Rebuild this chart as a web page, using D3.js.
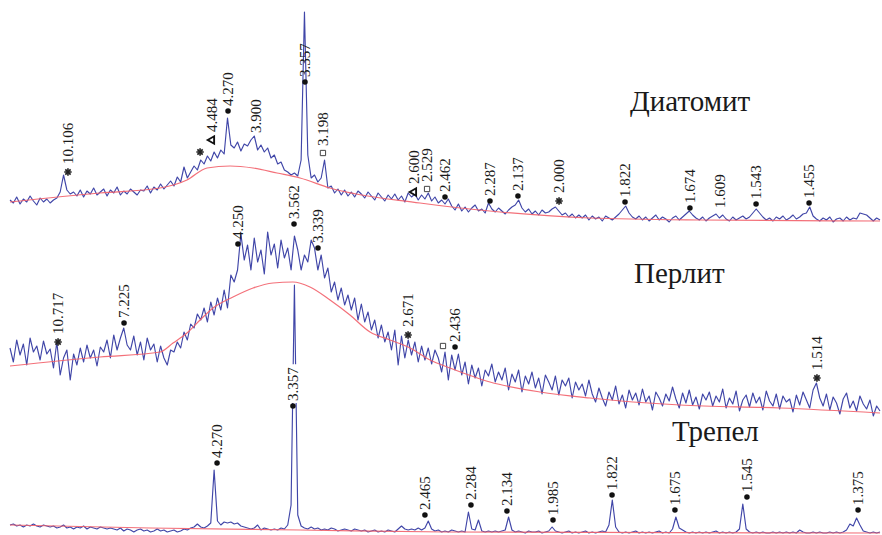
<!DOCTYPE html>
<html>
<head>
<meta charset="utf-8">
<script src="https://cdn.jsdelivr.net/npm/d3@7"></script>
<style>
  body { margin: 0; background: #fff; }
  svg { display: block; }
  text { font-family: "Liberation Serif", "Times New Roman", serif; fill: #1a1a1a; }
</style>
</head>
<body>
<svg id="chart"></svg>
<script>
// 2-theta grid of the scans (degrees)
var twoThetaStart = 5, twoThetaStep = 0.25;

// intensities, arbitrary units, one value per step
var diatomiteCounts = [30,27,33,26,31,28,34,29,25,32,28,31,27,30,
  32,38,55,40,36,
  38,34,40,33,39,36,42,35,38,41,34,40,37,43,35,39,36,41,38,35,40,
  39,44,37,43,40,46,41,
  45,49,44,53,48,63,
  52,58,64,60,70,
  66,74,69,78,72,80,76,
  112,85,
  82,88,79,86,84,90,94,80,85,
  78,82,72,75,66,68,60,
  58,55,57,54,
  70,218,75,52,55,48,52,70,42,
  44,37,41,35,40,34,38,33,39,36,
  32,38,34,30,37,33,29,35,31,36,
  30,34,28,37,33,36,30,
  35,31,37,29,33,27,30,26,31,
  24,20,26,19,23,18,22,25,19,21,17,
  27,21,18,22,19,16,20,23,
  25,30,22,18,21,16,19,15,20,17,
  18,21,23,19,15,17,13,16,12,15,
  12,15,10,14,11,13,9,14,12,10,13,16,
  20,24,17,13,
  11,14,10,13,9,12,15,10,13,11,8,12,14,10,13,16,
  19,15,12,10,
  13,9,12,14,16,12,15,11,9,13,10,12,14,11,13,17,
  21,17,13,10,
  12,9,13,11,14,10,12,15,11,13,16,
  17,23,14,11,
  9,12,10,13,8,11,12,9,13,10,12,11,
  17,16,15,12,9,12,10];

var perliteCounts = [72,58,80,65,76,55,82,68,74,60,79,66,71,
  52,78,45,62,70,40,
  66,55,72,58,75,62,70,54,73,
  68,80,62,85,70,82,92,75,70,
  84,65,78,60,82,70,76,58,74,
  62,55,70,68,
  78,72,88,80,96,92,106,100,
  112,98,118,105,122,110,
  130,112,145,138,150,
  186,160,175,150,182,158,170,146,188,165,176,152,180,162,172,150,184,
  170,150,165,
  158,180,172,
  150,165,142,152,
  128,138,120,132,115,125,
  110,122,100,116,98,108,
  90,100,82,95,78,88,
  70,90,55,84,62,80,
  65,78,58,74,60,72,56,70,62,
  48,68,40,65,50,66,
  45,58,36,55,42,52,34,50,44,56,38,48,
  40,52,30,46,38,50,28,44,36,48,32,42,26,45,38,
  30,44,25,40,34,42,22,38,30,36,24,40,
  26,18,32,22,14,28,20,34,16,25,12,30,
  20,27,15,31,18,24,10,28,22,14,26,19,
  33,21,12,27,17,30,15,23,11,26,20,28,
  14,24,18,31,12,22,16,29,9,20,25,13,
  27,17,23,10,29,19,14,26,11,24,18,21,
  8,25,15,28,20,12,30,37,22,14,26,10,
  23,17,6,21,27,12,19,9,24,16,11,20,
  4,14,9];

var trepelCounts = [10,11,9,10,8,10,9,11,9,8,10,9,8,
  9,7,8,10,7,8,6,8,7,9,6,8,7,6,8,7,6,7,
  6,5,7,4,6,5,3,5,6,4,5,3,4,6,4,5,3,4,5,3,4,6,5,7,8,
  11,8,7,9,12,
  65,14,
  10,13,12,13,11,12,9,8,
  7,6,7,10,5,7,
  6,5,6,5,7,6,10,
  30,250,20,
  9,7,6,8,6,7,5,6,5,7,6,4,5,6,5,4,6,5,4,
  5,3,4,5,3,4,3,5,4,3,
  6,9,6,5,6,5,7,5,
  7,14,6,
  4,5,3,4,3,5,4,3,4,3,
  23,6,5,15,4,3,
  4,3,4,3,4,5,
  18,5,
  3,4,3,2,4,3,3,4,2,3,4,8,4,
  3,2,3,4,2,3,2,3,4,2,3,2,3,4,3,
  10,35,8,
  3,2,3,2,3,4,2,3,2,3,2,3,4,2,3,2,
  6,18,7,5,3,
  2,3,2,3,2,3,2,3,4,2,3,2,3,2,3,6,
  31,6,
  3,2,3,2,3,2,2,3,2,3,2,3,2,3,2,5,3,2,2,3,2,3,2,2,3,2,3,2,3,5,
  11,9,17,10,4,
  3,2,3,2,3];

// amorphous background, [2theta, intensity]
var diatomiteBackground = [[5,28],[11.72,37],[16.21,42],[18.22,50],[19.72,62],[21.44,64],[23.16,62],
  [24.95,57],[26.67,52],[28.91,42],[35.63,27],[41.61,18],[48.33,12],[56.55,10],[70,9]];
var perliteBackground = [[5,54],[11.72,63],[16.21,68],[17.18,77],[18.22,87],[19.2,100],[20.17,112],
  [21.66,123],[23.16,132],[24.65,137],[26.14,138],[27.41,133],[28.91,120],[30.4,105],[31.9,88],
  [33.39,80],[34.89,72],[36.38,60],[37.87,52],[40.86,38],[44.6,28],[48.33,22],[55.06,15],[62.53,12],[70,7]];
var trepelBackground = [[5,10],[15.46,7],[26.67,5],[37.65,3],[70,2]];

// peak labels: [d, 2theta, intensity at marker, marker]
var diatomitePeaks = [
  ['10.106', 9.33, 58, 'star'],
  ['', 19.2, 78, 'star'],
  ['4.484', 20.09, 90, 'tri'],
  ['4.270', 21.29, 119, 'dot'],
  ['3.900', 23.34, 97, ''],
  ['3.357', 27.04, 148, 'dot'],
  ['3.198', 28.38, 77, 'sq'],
  ['2.600', 35.18, 38, 'tri'],
  ['2.529', 36.16, 41, 'sq'],
  ['2.462', 37.5, 33, 'dot'],
  ['2.287', 40.86, 29, 'dot'],
  ['2.137', 42.95, 34, 'dot'],
  ['2.000', 46.02, 29, 'star'],
  ['1.822', 50.95, 28, 'dot'],
  ['1.674', 55.8, 22, 'dot'],
  ['1.609', 58.05, 22, ''],
  ['1.543', 60.74, 26, 'dot'],
  ['1.455', 64.7, 27, 'dot']
];
var perlitePeaks = [
  ['10.717', 8.59, 78, 'star'],
  ['7.225', 13.52, 97, 'dot'],
  ['4.250', 22.03, 176, 'dot'],
  ['3.562', 26.22, 196, 'dot'],
  ['3.339', 28.01, 172, 'dot'],
  ['2.671', 34.74, 85, 'star'],
  ['', 37.35, 74, 'sq'],
  ['2.436', 38.25, 73, 'dot'],
  ['1.514', 65.29, 42, 'star']
];
var trepelPeaks = [
  ['4.270', 20.47, 72, 'dot'],
  ['3.357', 26.14, 129, 'dot'],
  ['2.465', 36.0, 20, 'dot'],
  ['2.284', 39.44, 30, 'dot'],
  ['2.134', 42.13, 24, 'dot'],
  ['1.985', 45.57, 15, 'dot'],
  ['1.822', 49.98, 40, 'dot'],
  ['1.675', 54.68, 25, 'dot'],
  ['1.545', 60.06, 38, 'dot'],
  ['1.375', 68.36, 25, 'dot']
];

var sampleNames = ['Диатомит', 'Перлит', 'Трепел'];

var width = 882, height = 535;
var svg = d3.select('#chart').attr('width', width).attr('height', height);

var x = d3.scaleLinear().domain([5, 70]).range([10, 880]);

var panels = [
  { name: sampleNames[0], counts: diatomiteCounts, bg: diatomiteBackground, peaks: diatomitePeaks,
    y: d3.scaleLinear().domain([0, 220]).range([230, 10]), titleX: 630, titleY: 111, masked: [] },
  { name: sampleNames[1], counts: perliteCounts, bg: perliteBackground, peaks: perlitePeaks,
    y: d3.scaleLinear().domain([0, 200]).range([420, 220]), titleX: 634, titleY: 283, masked: [] },
  { name: sampleNames[2], counts: trepelCounts, bg: trepelBackground, peaks: trepelPeaks,
    y: d3.scaleLinear().domain([0, 260]).range([535, 275]), titleX: 672, titleY: 441, masked: ['3.357'] }
];

// gap between marker and the value text
var gaps = { dot: 5, star: 8, tri: 8, sq: 7, '': 0 };

function drawMarker(g, type) {
  if (type === 'dot') {
    g.append('path').attr('d', d3.symbol().type(d3.symbolCircle).size(24)).attr('fill', '#111');
  } else if (type === 'star') {
    g.append('path').attr('d', d3.symbol().type(d3.symbolPlus).size(20))
      .attr('stroke', '#222').attr('stroke-width', 1.6).attr('fill', 'none');
    g.append('path').attr('d', d3.symbol().type(d3.symbolTimes).size(20))
      .attr('stroke', '#222').attr('stroke-width', 1.6).attr('fill', 'none');
  } else if (type === 'tri') {
    g.append('path').attr('d', d3.symbol().type(d3.symbolTriangle).size(24))
      .attr('stroke', '#111').attr('stroke-width', 1.9).attr('fill', '#fff');
  } else if (type === 'sq') {
    g.append('path').attr('d', d3.symbol().type(d3.symbolSquare).size(28))
      .attr('stroke', '#444').attr('stroke-width', 1).attr('fill', '#fff');
  }
}

panels.forEach(function (p) {
  var g = svg.append('g').attr('class', 'panel');

  var line = d3.line()
    .x(function (d) { return x(d[0]); })
    .y(function (d) { return p.y(d[1]); });

  var pts = p.counts.map(function (c, i) {
    return [twoThetaStart + i * twoThetaStep, c];
  });

  g.append('path')
    .datum(pts)
    .attr('fill', 'none')
    .attr('stroke', '#4046a8')
    .attr('stroke-width', 1.15)
    .attr('stroke-linejoin', 'round')
    .attr('d', line);

  g.append('path')
    .datum(p.bg)
    .attr('fill', 'none')
    .attr('stroke', '#f2606a')
    .attr('stroke-width', 1.2)
    .attr('opacity', 0.9)
    .attr('d', line.curve(d3.curveMonotoneX));

  // rotated peak labels
  var lab = g.selectAll('.peak')
    .data(p.peaks)
    .enter().append('g')
    .attr('class', 'peak')
    .attr('transform', function (d) {
      return 'translate(' + x(d[1]) + ',' + p.y(d[2]) + ') rotate(-90)';
    });

  lab.each(function (d) {
    var el = d3.select(this);
    var gap = gaps[d[3]];
    var bg = null;
    if (p.masked.indexOf(d[0]) >= 0) {
      bg = el.append('rect').attr('fill', '#fff');
    }
    drawMarker(el, d[3]);
    if (d[0]) {
      var t = el.append('text')
        .attr('x', gap)
        .attr('dy', '0.35em')
        .style('font-size', '15px')
        .text(d[0]);
      if (bg) {
        var len = t.node().getComputedTextLength();
        bg.attr('x', gap - 2).attr('y', -7).attr('width', len + 5).attr('height', 14);
      }
    }
  });

  g.append('text')
    .attr('x', p.titleX)
    .attr('y', p.titleY)
    .style('font-size', '29px')
    .text(p.name);
});
</script>
</body>
</html>
